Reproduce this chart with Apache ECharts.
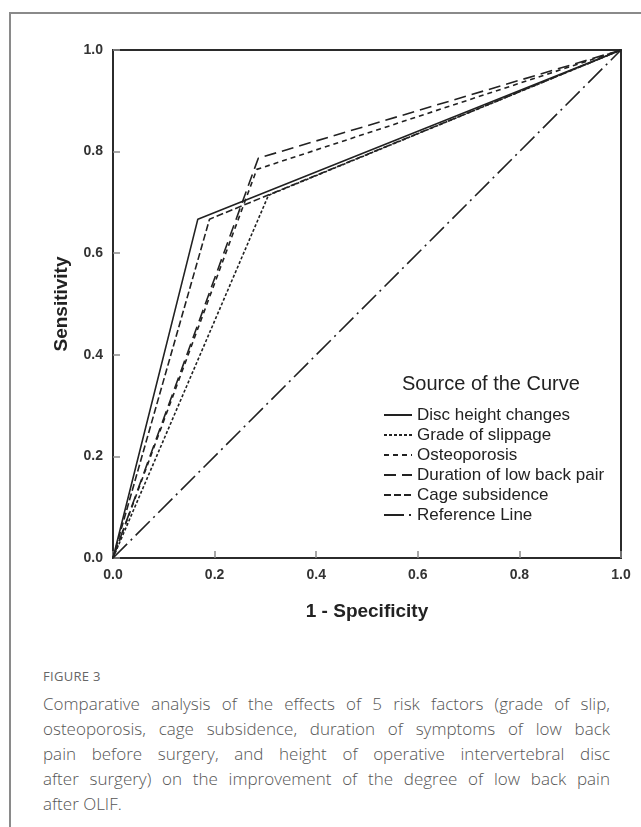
<!DOCTYPE html>
<html>
<head>
<meta charset="utf-8">
<script src="https://cdn.jsdelivr.net/npm/echarts@6/dist/echarts.min.js"></script>
<style>
    html, body { margin: 0; padding: 0; background: #fff; }
    #page { position: relative; width: 641px; height: 827px; overflow: hidden; background: #fff; }
    #chart { position: absolute; left: 0; top: 0; width: 641px; height: 660px; z-index: 1; }
    .frame-line { position: absolute; background: #8a8a8a; z-index: 10; pointer-events: none; }
    #frameTop { left: 9px; top: 12px; width: 632px; height: 2px; }
    #frameLeft { left: 9px; top: 12px; width: 2px; height: 815px; }
    #figLabel { position: absolute; left: 43px; top: 667px; font-family: "Open Sans", sans-serif;
        font-size: 13px; color: #666; letter-spacing: 0.3px; }
    #caption { position: absolute; left: 43px; top: 691px; width: 567px; font-family: "Open Sans", sans-serif;
        font-weight: 300; font-size: 17px; line-height: 25px; color: #555; }
    #caption div { text-align: justify; text-align-last: justify; white-space: nowrap; }
    #caption div.last { text-align-last: left; }
</style>
</head>
<body>
<div id="page">
    <div id="chart"></div>
    <div id="frameTop" class="frame-line"></div>
    <div id="frameLeft" class="frame-line"></div>
    <div id="figLabel">FIGURE 3</div>
    <div id="caption"></div>
</div>
<script>
    // ROC curves, each one has a single cut point (binary factor)
    var curveNames = ['Disc height changes', 'Grade of slippage', 'Osteoporosis',
        'Duration of low back pair', 'Cage subsidence', 'Reference Line'];

    var discFpr = [0, 0.167, 1];
    var discTpr = [0, 0.667, 1];

    var slipFpr = [0, 0.306, 1];
    var slipTpr = [0, 0.714, 1];

    var osteoFpr = [0, 0.283, 1];
    var osteoTpr = [0, 0.765, 1];

    var durationFpr = [0, 0.286, 1];
    var durationTpr = [0, 0.787, 1];

    var cageFpr = [0, 0.19, 1];
    var cageTpr = [0, 0.667, 1];

    var refFpr = [0, 1];
    var refTpr = [0, 1];

    var captionLines = [
        'Comparative analysis of the effects of 5 risk factors (grade of slip,',
        'osteoporosis, cage subsidence, duration of symptoms of low back',
        'pain before surgery, and height of operative intervertebral disc',
        'after surgery) on the improvement of the degree of low back pain',
        'after OLIF.'
    ];

    var captionBox = document.getElementById('caption');
    captionLines.forEach(function (line, i) {
        var d = document.createElement('div');
        d.textContent = line;
        if (i === captionLines.length - 1) {
            d.className = 'last';
        }
        captionBox.appendChild(d);
    });

    function pairs(xs, ys) {
        return xs.map(function (x, i) { return [x, ys[i]]; });
    }

    var curves = [
        { data: pairs(discFpr, discTpr), dash: 'solid' },
        { data: pairs(slipFpr, slipTpr), dash: [3, 2] },
        { data: pairs(osteoFpr, osteoTpr), dash: [5, 4] },
        { data: pairs(durationFpr, durationTpr), dash: [12, 6] },
        { data: pairs(cageFpr, cageTpr), dash: [7, 3] },
        { data: pairs(refFpr, refTpr), dash: [20, 5, 2, 5] }
    ];

    var FONT = 'Arial, "Liberation Sans", sans-serif';

    var axisCommon = {
        type: 'value',
        min: 0,
        max: 1,
        interval: 0.2,
        axisLine: { show: true, lineStyle: { color: '#2b2b2b', width: 2 } },
        axisTick: { show: true, inside: true, length: 7, lineStyle: { color: '#8a8a8a', width: 1.5 } },
        splitLine: { show: false },
        axisLabel: {
            formatter: function (v) { return v.toFixed(1); },
            fontFamily: FONT, fontWeight: 'bold', fontSize: 14, color: '#333', margin: 10
        },
        nameLocation: 'middle',
        nameTextStyle: { fontFamily: FONT, fontWeight: 'bold', fontSize: 19, color: '#222' }
    };

    var option = {
        animation: false,
        backgroundColor: 'transparent',
        title: {
            text: 'Source of the Curve',
            left: 397,
            top: 369,
            textStyle: { fontFamily: FONT, fontWeight: 'normal', fontSize: 20, color: '#222' }
        },
        legend: {
            orient: 'vertical',
            left: 378,
            top: 400,
            itemWidth: 28,
            itemHeight: 10,
            itemGap: 0,
            selectedMode: false,
            data: curveNames,
            itemStyle: { opacity: 0 },
            textStyle: { fontFamily: FONT, fontSize: 17, lineHeight: 20, color: '#222' }
        },
        grid: {
            left: 113,
            top: 50,
            width: 508,
            height: 508,
            show: true,
            borderColor: '#2b2b2b',
            borderWidth: 2,
            backgroundColor: 'transparent'
        },
        xAxis: Object.assign({}, axisCommon, { name: '1 - Specificity', nameGap: 44 }),
        yAxis: Object.assign({}, axisCommon, { name: 'Sensitivity', nameGap: 42 }),
        series: curves.map(function (c, i) {
            return {
                name: curveNames[i],
                type: 'line',
                data: c.data,
                symbol: 'none',
                itemStyle: { color: '#222' },
                lineStyle: { color: '#222', width: 1.6, type: c.dash }
            };
        })
    };

    var chart = echarts.init(document.getElementById('chart'));
    chart.setOption(option);
</script>
</body>
</html>
